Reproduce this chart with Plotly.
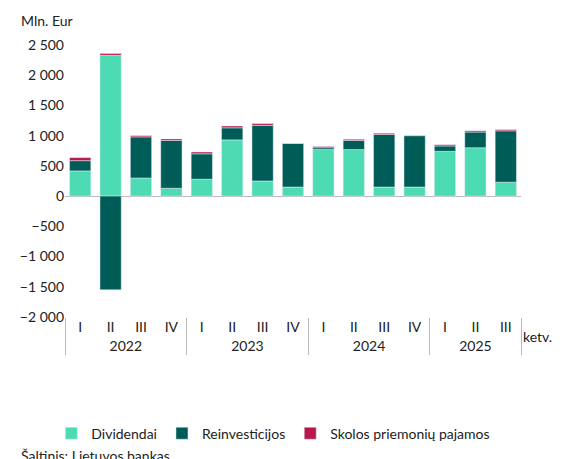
import plotly.graph_objects as go

years = ["2022"]*4 + ["2023"]*4 + ["2024"]*4 + ["2025"]*3
quarters = ["I","II","III","IV"]*3 + ["I","II","III"]
dividendai = [417, 2330, 300, 130, 280, 930, 250, 150, 770, 770, 150, 150, 740, 800, 230]
reinvesticijos = [170, -1550, 680, 790, 420, 200, 920, 720, 30, 150, 870, 850, 90, 260, 850]
skolos = [50, 30, 20, 25, 30, 30, 30, 5, 20, 20, 20, 5, 20, 20, 20]

tickvals = [2500, 2000, 1500, 1000, 500, 0, -500, -1000, -1500, -2000]
ticktext = [("−" if v < 0 else "") + f"{abs(v):,}".replace(",", " ") for v in tickvals]

x = [years, quarters]
fig = go.Figure()
fig.add_bar(x=x, y=dividendai, name="Dividendai", marker_color="#4ddbb4")
fig.add_bar(x=x, y=reinvesticijos, name="Reinvesticijos", marker_color="#005c57")
fig.add_bar(x=x, y=skolos, name="Skolos priemonių pajamos", marker_color="#b8164c")

fig.update_layout(
    barmode="relative", width=563, height=459, bargap=0.3,
    plot_bgcolor="white", paper_bgcolor="white",
    font=dict(family="Lato", size=14, color="#222"),
    margin=dict(l=55, r=50, t=37, b=150),
    legend=dict(orientation="h", x=-0.03, y=-0.37, xanchor="left", yanchor="top",
                font=dict(size=14), itemwidth=30, tracegroupgap=0),
    yaxis=dict(range=[-2000, 2500], tickvals=tickvals, ticktext=ticktext, showgrid=False,
               zeroline=True, zerolinecolor="#bbb", zerolinewidth=1),
    xaxis=dict(showgrid=False, showline=False, tickson="boundaries", ticklen=35,
               tickcolor="#bbb", showdividers=True, dividercolor="#bbb"),
    annotations=[
        dict(text="Mln. Eur", xref="paper", yref="paper", x=-0.1, y=1.05, xanchor="left", yanchor="bottom", showarrow=False, font=dict(size=14)),
        dict(text="ketv.", xref="paper", yref="paper", x=1.0, y=-0.07, xanchor="left", yanchor="middle", showarrow=False, font=dict(size=14)),
        dict(text="Šaltinis: Lietuvos bankas.", xref="paper", yref="paper", x=-0.1, y=-0.47, xanchor="left", yanchor="top", showarrow=False, font=dict(size=14)),
    ],
)
fig.write_html("out.html")
